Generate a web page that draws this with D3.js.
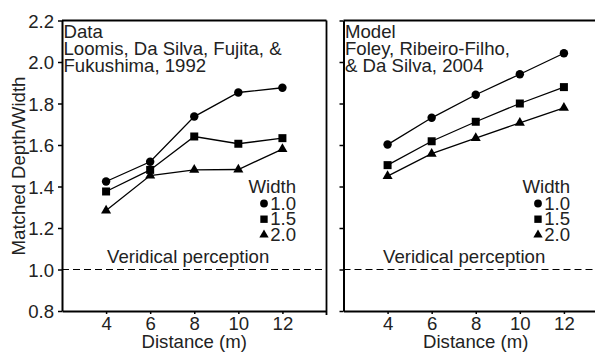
<!DOCTYPE html>
<html><head><meta charset="utf-8">
<script src="https://cdn.jsdelivr.net/npm/d3@7"></script>
<style>
html,body{margin:0;padding:0;background:#fff;}
svg{display:block;font-family:"Liberation Sans",Arial,Helvetica,sans-serif;}
</style></head>
<body><svg id="chart" width="595" height="352"></svg>
<script>
const distances = [4, 6, 8, 10, 12];
const widthLabels = ["1.0", "1.5", "2.0"];
const symbolsBySeries = ["circle", "square", "triangle"];
const dataW10 = [1.424, 1.519, 1.737, 1.853, 1.876];
const dataW15 = [1.376, 1.480, 1.641, 1.606, 1.633];
const dataW20 = [1.284, 1.453, 1.480, 1.482, 1.580];
const modelW10 = [1.602, 1.731, 1.842, 1.941, 2.042];
const modelW15 = [1.503, 1.618, 1.712, 1.800, 1.879];
const modelW20 = [1.450, 1.558, 1.633, 1.707, 1.779];
const yTicks = [0.8, 1.0, 1.2, 1.4, 1.6, 1.8, 2.0, 2.2];
const xTicks = [4, 6, 8, 10, 12];
const veridical = 1.0;
const panelTitles = [
  ["Data", "Loomis, Da Silva, Fujita, &", "Fukushima, 1992"],
  ["Model", "Foley, Ribeiro-Filho,", "& Da Silva, 2004"]
];

const svg = d3.select("#chart");
const fs = 18.6;
const y = d3.scaleLinear().domain([0.8, 2.2]).range([311, 20.5]);
const panels = [
  {x0: 62, x1: 326.5, series: [dataW10, dataW15, dataW20], labels: true, titles: panelTitles[0], legendRight: 296, vpX: 107},
  {x0: 343.5, x1: 608, series: [modelW10, modelW15, modelW20], labels: false, titles: panelTitles[1], legendRight: 570, vpX: 383}
];
const symType = {circle: d3.symbolCircle, square: d3.symbolSquare, triangle: d3.symbolTriangle};
const symSize = {circle: 56, square: 64, triangle: 44};

panels.forEach(p => {
  const x = d3.scaleLinear().domain([2, 14]).range([p.x0, p.x1]);
  const g = svg.append("g");
  g.append("line").attr("x1", p.x0).attr("x2", p.x1).attr("y1", y(2.2)).attr("y2", y(2.2))
    .attr("stroke", "#000").attr("stroke-width", 1.8);
  g.append("line").attr("x1", p.x1).attr("x2", p.x1).attr("y1", y(2.2)).attr("y2", y(0.8) + 4)
    .attr("stroke", "#000").attr("stroke-width", 1.8);
  const ya = d3.axisLeft(y).tickValues(yTicks).tickSize(4).tickSizeOuter(0)
    .tickFormat(p.labels ? d3.format(".1f") : "");
  const yg = g.append("g").attr("transform", `translate(${p.x0},0)`).call(ya);
  yg.select(".domain").attr("stroke-width", 2);
  yg.selectAll(".tick line").attr("stroke-width", 1.5);
  yg.selectAll("text").attr("font-size", fs).attr("fill", "#222").attr("dx", "-0.05em").attr("dy", "0.36em");
  const xa = d3.axisBottom(x).tickValues(xTicks).tickSize(3).tickSizeOuter(0).tickFormat(d3.format("d"));
  const xg = g.append("g").attr("transform", `translate(0,${y(0.8)})`).call(xa);
  xg.select(".domain").attr("stroke-width", 2);
  xg.selectAll(".tick line").attr("stroke-width", 1.5);
  xg.selectAll("text").attr("font-size", fs).attr("fill", "#222").attr("dy", "0.7em");
  g.append("text").attr("x", x(8)).attr("y", 348).attr("text-anchor", "middle")
    .attr("font-size", fs).attr("fill", "#222").text("Distance (m)");
  g.append("line").attr("x1", p.x0).attr("x2", p.x1).attr("y1", y(veridical)).attr("y2", y(veridical))
    .attr("stroke", "#000").attr("stroke-width", 1.2).attr("stroke-dasharray", "7,4");
  g.append("text").attr("x", p.vpX).attr("y", 262.5).attr("font-size", fs).attr("fill", "#222")
    .text("Veridical perception");
  p.titles.forEach((t, i) => {
    g.append("text").attr("x", p.x0 + 1.5).attr("y", 37.5 + i * 17).attr("font-size", fs)
      .attr("fill", "#222").text(t);
  });
  const line = d3.line().x((d, i) => x(distances[i])).y(d => y(d));
  p.series.forEach((vals, si) => {
    g.append("path").attr("d", line(vals)).attr("fill", "none").attr("stroke", "#000").attr("stroke-width", 1.3);
    const st = symbolsBySeries[si];
    g.selectAll(null).data(vals).enter().append("path")
      .attr("transform", (d, i) => `translate(${x(distances[i])},${y(d)})`)
      .attr("d", d3.symbol().type(symType[st]).size(symSize[st])).attr("fill", "#000");
  });
  g.append("text").attr("x", p.legendRight).attr("y", 192.7).attr("text-anchor", "end")
    .attr("font-size", fs).attr("fill", "#222").text("Width");
  widthLabels.forEach((lab, i) => {
    const by = 209.5 + i * 15.7;
    g.append("text").attr("x", p.legendRight).attr("y", by).attr("text-anchor", "end")
      .attr("font-size", fs).attr("fill", "#222").text(lab);
    const st = symbolsBySeries[i];
    g.append("path").attr("transform", `translate(${p.legendRight - 32},${by - 6})`)
      .attr("d", d3.symbol().type(symType[st]).size(symSize[st] * 0.85)).attr("fill", "#000");
  });
});
svg.append("text").attr("transform", "translate(24.5,166) rotate(-90)").attr("text-anchor", "middle")
  .attr("font-size", fs).attr("fill", "#222").text("Matched Depth/Width");
</script></body></html>
